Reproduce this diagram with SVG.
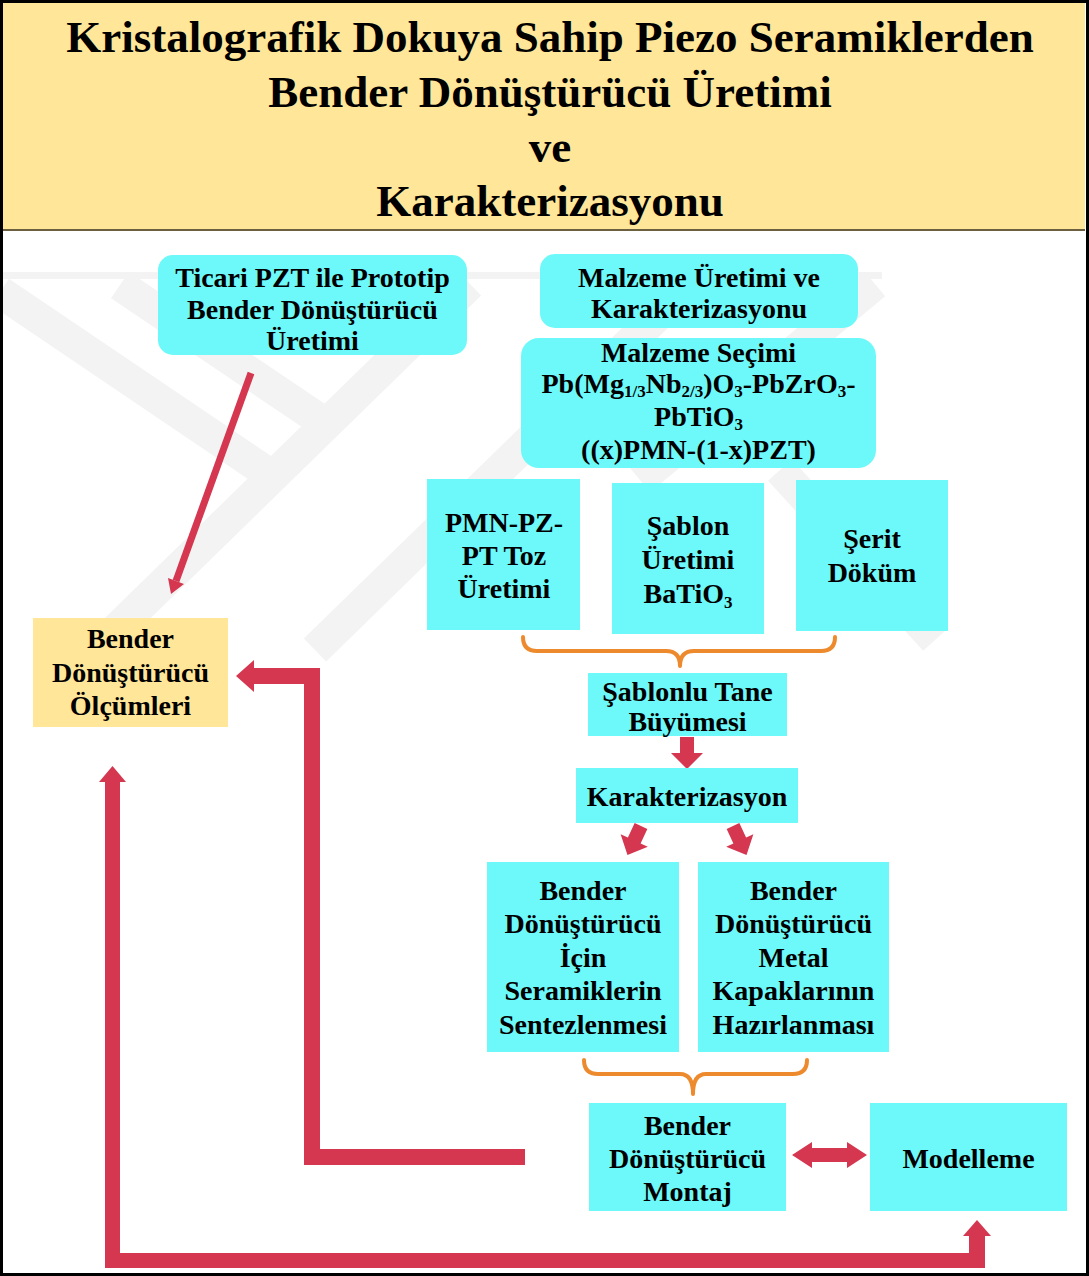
<svg xmlns="http://www.w3.org/2000/svg" width="1089" height="1276" viewBox="0 0 1089 1276">
  <style>
    .t { font-family: "Liberation Serif", "Times New Roman", serif; font-weight: bold; fill: #000; text-anchor: middle; }
    .title { font-size: 45px; }
    .lbl { font-size: 28px; }
    .sub { font-size: 17px; }
    .cyan { fill: #6DF9F9; }
    .gold { fill: #FFE699; }
    .red { fill: #D4374F; }
    .brace { fill: none; stroke: #EE8A2E; stroke-width: 4; stroke-linecap: round; stroke-linejoin: round; }
    .wm { fill: none; stroke: #F3F3F3; stroke-width: 32; stroke-linecap: butt; }
  </style>

  <!-- page background -->
  <rect x="0" y="0" width="1089" height="1276" fill="#FFFFFF"/>

  <!-- faint background emblem -->
  <g id="emblem">
    <rect x="0" y="272" width="882" height="7" fill="#F3F3F3"/>
    <path class="wm" d="M0,292 L275,478"/>
    <path class="wm" d="M120,285 L335,430"/>
    <path class="wm" d="M95,650 L470,284"/>
    <path class="wm" d="M315,650 L690,284"/>
    <path class="wm" d="M875,284 L640,480"/>
    <path class="wm" d="M780,470 L935,640"/>
  </g>

  <!-- title banner -->
  <g id="title">
    <rect class="gold" x="3" y="3" width="1082" height="227"/>
    <line x1="3" y1="230" x2="1085" y2="230" stroke="#6B6040" stroke-width="2"/>
    <text class="t title" x="550" y="52">Kristalografik Dokuya Sahip Piezo Seramiklerden</text>
    <text class="t title" x="550" y="107">Bender Dönüştürücü Üretimi</text>
    <text class="t title" x="550" y="162">ve</text>
    <text class="t title" x="550" y="216">Karakterizasyonu</text>
  </g>

  <!-- connectors -->
  <g id="connectors">
    <!-- prototype -> measurements -->
    <line x1="251" y1="373" x2="176" y2="581" stroke="#D4374F" stroke-width="7"/>
    <path class="red" d="M171,594 L184,584 L168,578 Z"/>
    <!-- braces -->
    <path class="brace" d="M523,637 Q523,651 537,651 L666,651 Q680,651 680,666 Q680,651 694,651 L821,651 Q835,651 835,637"/>
    <path class="brace" d="M584,1060 Q584,1074 598,1074 L680,1074 Q693,1074 693,1094 Q693,1074 706,1074 L793,1074 Q807,1074 807,1060"/>
    <!-- growth -> characterization -->
    <path class="red" d="M680,737 L694,737 L694,753 L703,753 L687,769 L671,753 L680,753 Z"/>
    <!-- characterization -> two branches -->
    <path class="red" transform="translate(641,826) rotate(25)" d="M-7,0 L7,0 L7,16 L15,16 L0,32 L-15,16 L-7,16 Z"/>
    <path class="red" transform="translate(733,826) rotate(-25)" d="M-7,0 L7,0 L7,16 L15,16 L0,32 L-15,16 L-7,16 Z"/>
    <!-- assembly <-> modelling -->
    <path class="red" d="M792,1155 L812,1142 L812,1148 L847,1148 L847,1142 L867,1155 L847,1168 L847,1162 L812,1162 L812,1168 Z"/>
    <!-- assembly -> measurements -->
    <path class="red" d="M525,1165 L304,1165 L304,684 L254,684 L254,692 L236,676 L254,660 L254,668 L320,668 L320,1149 L525,1149 Z"/>
    <!-- measurements <-> modelling loop -->
    <path class="red" d="M105,1268 L985,1268 L985,1236 L991,1236 L977,1220 L963,1236 L969,1236 L969,1253 L120,1253 L120,782 L126,782 L112.5,766 L99,782 L105,782 Z"/>
  </g>

  <g id="node-prototip">
    <rect class="cyan" x="158" y="255" width="309" height="100" rx="15"/>
    <text class="t lbl" x="312.5" y="287">Ticari PZT ile Prototip</text>
    <text class="t lbl" x="312.5" y="319">Bender Dönüştürücü</text>
    <text class="t lbl" x="312.5" y="350">Üretimi</text>
  </g>

  <g id="node-malzeme-uretimi">
    <rect class="cyan" x="540" y="254" width="318" height="74" rx="15"/>
    <text class="t lbl" x="699" y="287">Malzeme Üretimi ve</text>
    <text class="t lbl" x="699" y="318">Karakterizasyonu</text>
  </g>

  <g id="node-malzeme-secimi">
    <rect class="cyan" x="521" y="338" width="355" height="130" rx="18"/>
    <text class="t lbl" x="698.5" y="362">Malzeme Seçimi</text>
    <text class="t lbl" x="698.5" y="393">Pb(Mg<tspan class="sub" dy="4">1/3</tspan><tspan dy="-4">Nb</tspan><tspan class="sub" dy="4">2/3</tspan><tspan dy="-4">)O</tspan><tspan class="sub" dy="4">3</tspan><tspan dy="-4">-PbZrO</tspan><tspan class="sub" dy="4">3</tspan><tspan dy="-4">-</tspan></text>
    <text class="t lbl" x="698.5" y="426">PbTiO<tspan class="sub" dy="4">3</tspan></text>
    <text class="t lbl" x="698.5" y="459">((x)PMN-(1-x)PZT)</text>
  </g>

  <g id="node-toz">
    <rect class="cyan" x="427" y="479" width="153" height="151"/>
    <text class="t lbl" x="504" y="532">PMN-PZ-</text>
    <text class="t lbl" x="504" y="565">PT Toz</text>
    <text class="t lbl" x="504" y="598">Üretimi</text>
  </g>

  <g id="node-sablon">
    <rect class="cyan" x="612" y="483" width="152" height="151"/>
    <text class="t lbl" x="688" y="535">Şablon</text>
    <text class="t lbl" x="688" y="569">Üretimi</text>
    <text class="t lbl" x="688" y="603">BaTiO<tspan class="sub" dy="5">3</tspan></text>
  </g>

  <g id="node-serit">
    <rect class="cyan" x="796" y="480" width="152" height="151"/>
    <text class="t lbl" x="872" y="548">Şerit</text>
    <text class="t lbl" x="872" y="582">Döküm</text>
  </g>

  <g id="node-tane">
    <rect class="cyan" x="588" y="673" width="199" height="63"/>
    <text class="t lbl" x="687.5" y="701">Şablonlu Tane</text>
    <text class="t lbl" x="687.5" y="731">Büyümesi</text>
  </g>

  <g id="node-karakterizasyon">
    <rect class="cyan" x="576" y="768" width="222" height="55"/>
    <text class="t lbl" x="687" y="806">Karakterizasyon</text>
  </g>

  <g id="node-seramik">
    <rect class="cyan" x="487" y="862" width="192" height="190"/>
    <text class="t lbl" x="583" y="900">Bender</text>
    <text class="t lbl" x="583" y="933">Dönüştürücü</text>
    <text class="t lbl" x="583" y="967">İçin</text>
    <text class="t lbl" x="583" y="1000">Seramiklerin</text>
    <text class="t lbl" x="583" y="1034">Sentezlenmesi</text>
  </g>

  <g id="node-kapak">
    <rect class="cyan" x="698" y="862" width="191" height="190"/>
    <text class="t lbl" x="793.5" y="900">Bender</text>
    <text class="t lbl" x="793.5" y="933">Dönüştürücü</text>
    <text class="t lbl" x="793.5" y="967">Metal</text>
    <text class="t lbl" x="793.5" y="1000">Kapaklarının</text>
    <text class="t lbl" x="793.5" y="1034">Hazırlanması</text>
  </g>

  <g id="node-montaj">
    <rect class="cyan" x="589" y="1103" width="197" height="108"/>
    <text class="t lbl" x="687.5" y="1135">Bender</text>
    <text class="t lbl" x="687.5" y="1168">Dönüştürücü</text>
    <text class="t lbl" x="687.5" y="1201">Montaj</text>
  </g>

  <g id="node-modelleme">
    <rect class="cyan" x="870" y="1103" width="197" height="108"/>
    <text class="t lbl" x="968.5" y="1168">Modelleme</text>
  </g>

  <g id="node-olcumler">
    <rect class="gold" x="33" y="618" width="195" height="109"/>
    <text class="t lbl" x="130.5" y="648">Bender</text>
    <text class="t lbl" x="130.5" y="682">Dönüştürücü</text>
    <text class="t lbl" x="130.5" y="715">Ölçümleri</text>
  </g>

  <!-- outer frame -->
  <rect x="1.5" y="1.5" width="1086" height="1273" fill="none" stroke="#000" stroke-width="3"/>
</svg>
